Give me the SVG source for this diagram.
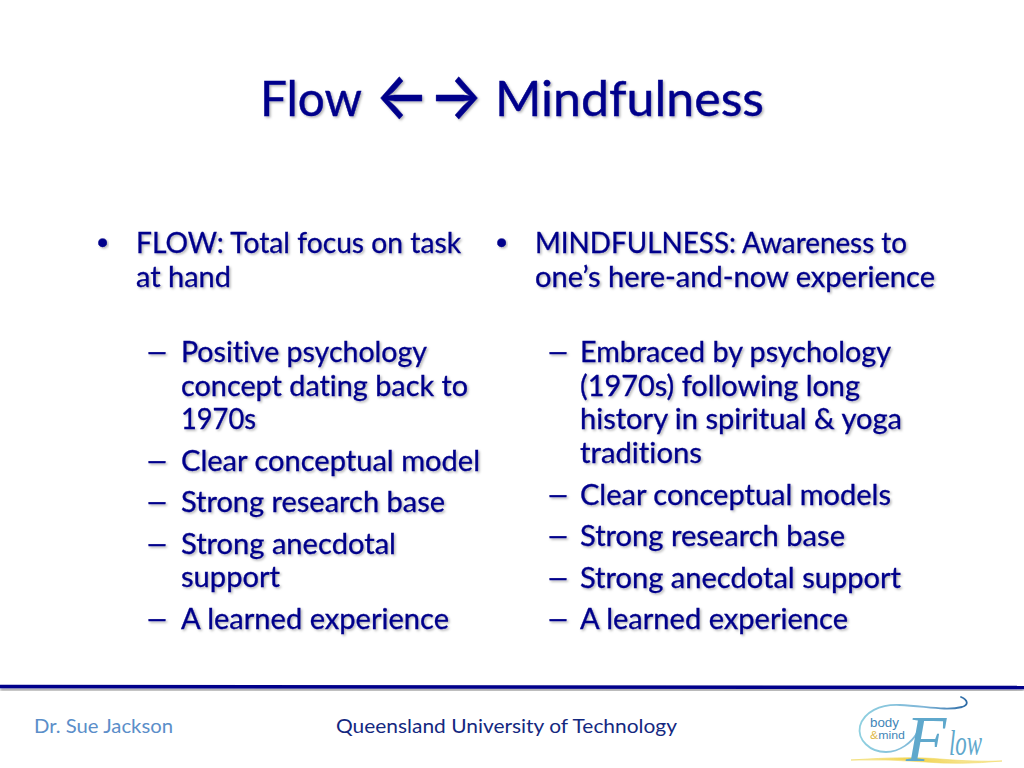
<svg xmlns="http://www.w3.org/2000/svg" width="1024" height="768" viewBox="0 0 1024 768">
<defs>
<filter id="ts" x="-5%" y="-20%" width="110%" height="150%"><feDropShadow dx="1.5" dy="1.5" stdDeviation="1" flood-color="#000" flood-opacity="0.3"/></filter>
<filter id="ls" x="-1%" y="-200%" width="102%" height="600%"><feDropShadow dx="0" dy="2.5" stdDeviation="1.5" flood-color="#000" flood-opacity="0.4"/></filter>
<linearGradient id="sw" x1="0" x2="1" y1="0" y2="0"><stop offset="0" stop-color="#8fd0e0"/><stop offset="0.6" stop-color="#7fb6d8"/><stop offset="1" stop-color="#2c6aa5"/></linearGradient>
<linearGradient id="yl" x1="0" x2="1" y1="0" y2="0"><stop offset="0" stop-color="#fdf3c0"/><stop offset="0.4" stop-color="#f0d24a"/><stop offset="1" stop-color="#fbf0c0"/></linearGradient>
</defs>
<style>
text{font-family:Lato,"Liberation Sans",sans-serif;font-variant-ligatures:none}
.b{font-size:28px;fill:#00008b;stroke:#00008b;stroke-width:0.3;filter:url(#ts)}
.t{font-size:48px;fill:#00008b;stroke:#00008b;stroke-width:0.4;filter:url(#ts)}
.f{font-size:20px}
</style>
<rect width="1024" height="768" fill="#ffffff"/>
<g id="title">
<text class="t" x="260" y="116" textLength="102" lengthAdjust="spacingAndGlyphs">Flow</text>
<text class="t" x="375" y="118" textLength="108" lengthAdjust="spacingAndGlyphs" style="font-family:Inter,'DejaVu Sans',sans-serif;font-weight:500;font-size:64px">←→</text>
<text class="t" x="495" y="116" textLength="269" lengthAdjust="spacingAndGlyphs">Mindfulness</text>
</g>
<g id="left-column">
<text class="b" x="97" y="253" style="font-family:'Liberation Sans',sans-serif;font-size:32px">•</text>
<text class="b" x="136" y="253" textLength="325" lengthAdjust="spacingAndGlyphs">FLOW: Total focus on task</text>
<text class="b" x="136" y="287" textLength="95" lengthAdjust="spacingAndGlyphs">at hand</text>
<text class="b" x="145" y="362" textLength="24" lengthAdjust="spacingAndGlyphs">–</text>
<text class="b" x="181" y="362" textLength="246" lengthAdjust="spacingAndGlyphs">Positive psychology</text>
<text class="b" x="181" y="396" textLength="287" lengthAdjust="spacingAndGlyphs">concept dating back to</text>
<text class="b" x="181" y="429" textLength="75" lengthAdjust="spacingAndGlyphs">1970s</text>
<text class="b" x="145" y="471" textLength="24" lengthAdjust="spacingAndGlyphs">–</text>
<text class="b" x="181" y="471" textLength="299" lengthAdjust="spacingAndGlyphs">Clear conceptual model</text>
<text class="b" x="145" y="512" textLength="24" lengthAdjust="spacingAndGlyphs">–</text>
<text class="b" x="181" y="512" textLength="264" lengthAdjust="spacingAndGlyphs">Strong research base</text>
<text class="b" x="145" y="554" textLength="24" lengthAdjust="spacingAndGlyphs">–</text>
<text class="b" x="181" y="554" textLength="215" lengthAdjust="spacingAndGlyphs">Strong anecdotal</text>
<text class="b" x="181" y="587" textLength="99" lengthAdjust="spacingAndGlyphs">support</text>
<text class="b" x="145" y="629" textLength="24" lengthAdjust="spacingAndGlyphs">–</text>
<text class="b" x="181" y="629" textLength="268" lengthAdjust="spacingAndGlyphs">A learned experience</text>
</g>
<g id="right-column">
<text class="b" x="496" y="253" style="font-family:'Liberation Sans',sans-serif;font-size:32px">•</text>
<text class="b" x="535" y="253" textLength="372" lengthAdjust="spacingAndGlyphs">MINDFULNESS: Awareness to</text>
<text class="b" x="535" y="287" textLength="400" lengthAdjust="spacingAndGlyphs">one’s here-and-now experience</text>
<text class="b" x="546" y="362" textLength="24" lengthAdjust="spacingAndGlyphs">–</text>
<text class="b" x="580" y="362" textLength="311" lengthAdjust="spacingAndGlyphs">Embraced by psychology</text>
<text class="b" x="580" y="396" textLength="280" lengthAdjust="spacingAndGlyphs">(1970s) following long</text>
<text class="b" x="580" y="429" textLength="322" lengthAdjust="spacingAndGlyphs">history in spiritual &amp; yoga</text>
<text class="b" x="580" y="463" textLength="122" lengthAdjust="spacingAndGlyphs">traditions</text>
<text class="b" x="546" y="505" textLength="24" lengthAdjust="spacingAndGlyphs">–</text>
<text class="b" x="580" y="505" textLength="311" lengthAdjust="spacingAndGlyphs">Clear conceptual models</text>
<text class="b" x="546" y="546" textLength="24" lengthAdjust="spacingAndGlyphs">–</text>
<text class="b" x="580" y="546" textLength="265" lengthAdjust="spacingAndGlyphs">Strong research base</text>
<text class="b" x="546" y="588" textLength="24" lengthAdjust="spacingAndGlyphs">–</text>
<text class="b" x="580" y="588" textLength="321" lengthAdjust="spacingAndGlyphs">Strong anecdotal support</text>
<text class="b" x="546" y="629" textLength="24" lengthAdjust="spacingAndGlyphs">–</text>
<text class="b" x="580" y="629" textLength="268" lengthAdjust="spacingAndGlyphs">A learned experience</text>
</g>
<g id="rule"><path d="M0 686.5L1024 687.5" stroke="#00008b" stroke-width="3.5" fill="none" filter="url(#ls)"/></g>
<g id="footer">
<text class="f" x="34" y="733" fill="#5b8ec9" textLength="139" lengthAdjust="spacingAndGlyphs">Dr. Sue Jackson</text>
<text class="f" x="336" y="733" fill="#14287f" textLength="341" lengthAdjust="spacingAndGlyphs">Queensland University of Technology</text>
</g>
<g id="logo">
<path d="M851 760Q910 756 940 759Q975 762 1002 761Q960 765 925 762Q890 759 851 760Z" fill="url(#yl)" stroke="#f0d860" stroke-width="0.6"/>
<path d="M961 697C968 700 969 705 962 707C945 711 925 706 900 705C880 704 864 712 860 726C857 740 870 752 886 752C900 752 912 742 917 733" fill="none" stroke="url(#sw)" stroke-width="1.8" stroke-linecap="round"/>
<text x="870" y="727" style="font-size:12.5px;font-family:'Liberation Sans',sans-serif" fill="#3f86b8" textLength="29" lengthAdjust="spacingAndGlyphs">body</text>
<text x="870" y="739" style="font-size:10.5px;font-family:'Liberation Sans',sans-serif" fill="#3f86b8" textLength="35" lengthAdjust="spacingAndGlyphs"><tspan fill="#e0b84a">&amp;</tspan>mind</text>
<text x="906" y="761" style="font-size:66px;font-style:italic;font-family:'Liberation Serif',serif" fill="#5fa8cc">F</text>
<text x="949" y="755" style="font-size:36px;font-style:italic;font-family:'Liberation Serif',serif" fill="#5fa8cc" textLength="33" lengthAdjust="spacingAndGlyphs">low</text>
</g>
</svg>
